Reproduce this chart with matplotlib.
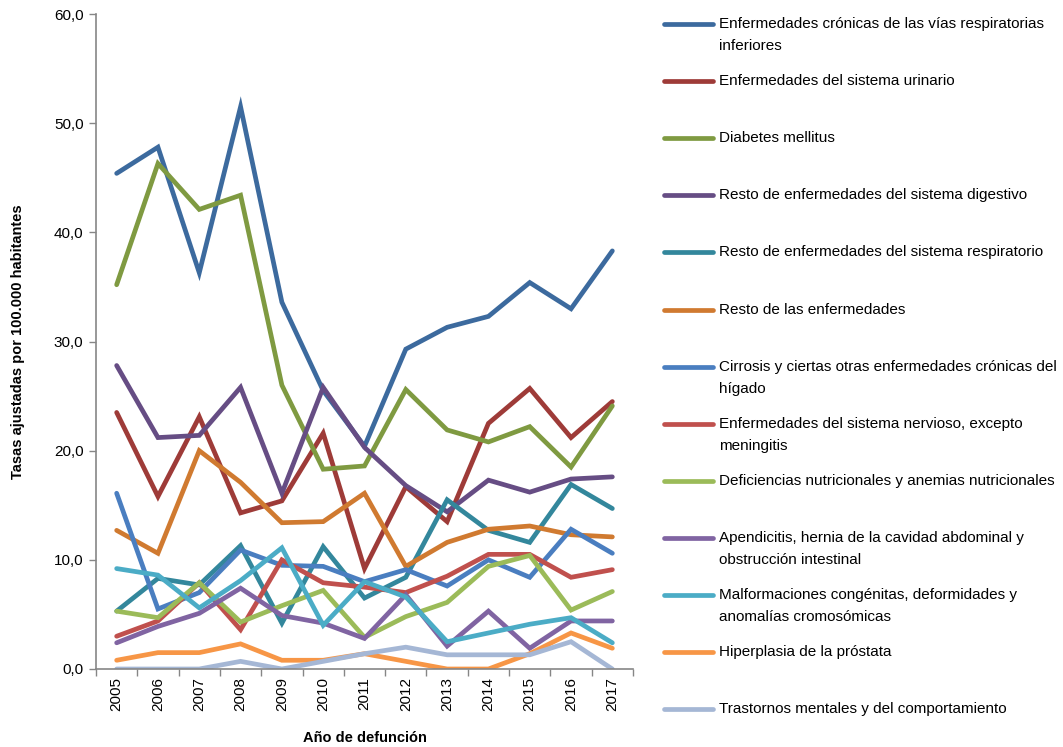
import matplotlib
matplotlib.use("Agg")
import matplotlib.pyplot as plt
from matplotlib.lines import Line2D
from matplotlib.ticker import FuncFormatter

plt.rcParams['font.family'] = ['Liberation Sans', 'DejaVu Sans']

years = ['2005', '2006', '2007', '2008', '2009', '2010', '2011',
         '2012', '2013', '2014', '2015', '2016', '2017']

# tasas ajustadas por 100.000 habitantes
cronicas_resp = [45.4, 47.8, 36.3, 51.5, 33.6, 25.5, 20.4, 29.3, 31.3, 32.3, 35.4, 33.0, 38.3]
urinario = [23.5, 15.8, 23.1, 14.3, 15.4, 21.6, 9.2, 16.7, 13.5, 22.5, 25.7, 21.2, 24.5]
diabetes = [35.2, 46.3, 42.1, 43.4, 26.0, 18.3, 18.6, 25.6, 21.9, 20.8, 22.2, 18.5, 24.1]
digestivo = [27.8, 21.2, 21.4, 25.8, 16.1, 25.8, 20.3, 16.8, 14.4, 17.3, 16.2, 17.4, 17.6]
resto_resp = [5.3, 8.3, 7.7, 11.3, 4.2, 11.2, 6.5, 8.4, 15.5, 12.7, 11.6, 16.9, 14.7]
resto_enf = [12.7, 10.6, 20.0, 17.1, 13.4, 13.5, 16.1, 9.4, 11.6, 12.8, 13.1, 12.3, 12.1]
cirrosis = [16.1, 5.5, 7.0, 10.9, 9.5, 9.4, 8.0, 9.1, 7.6, 10.0, 8.4, 12.8, 10.6]
nervioso = [3.0, 4.4, 7.9, 3.6, 10.0, 7.9, 7.5, 7.0, 8.5, 10.5, 10.5, 8.4, 9.1]
deficiencias = [5.3, 4.7, 7.9, 4.3, 5.8, 7.2, 2.9, 4.8, 6.1, 9.4, 10.4, 5.4, 7.1]
apendicitis = [2.4, 3.9, 5.1, 7.4, 4.9, 4.2, 2.8, 6.8, 2.1, 5.3, 1.9, 4.4, 4.4]
malformaciones = [9.2, 8.6, 5.6, 8.1, 11.1, 4.0, 8.0, 6.6, 2.5, 3.3, 4.1, 4.7, 2.4]
prostata = [0.8, 1.5, 1.5, 2.3, 0.8, 0.8, 1.4, 0.7, 0.0, 0.0, 1.4, 3.3, 1.9]
mentales = [0.0, 0.0, 0.0, 0.7, 0.0, 0.7, 1.4, 2.0, 1.3, 1.3, 1.3, 2.5, 0.0]

labels = [
    'Enfermedades crónicas de las vías respiratorias\ninferiores',
    'Enfermedades del sistema urinario',
    'Diabetes mellitus',
    'Resto de enfermedades del sistema digestivo',
    'Resto de enfermedades del sistema respiratorio',
    'Resto de las enfermedades',
    'Cirrosis y ciertas otras enfermedades crónicas del\nhígado',
    'Enfermedades del sistema nervioso, excepto\nmeningitis',
    'Deficiencias nutricionales y anemias nutricionales',
    'Apendicitis, hernia de la cavidad abdominal y\nobstrucción intestinal',
    'Malformaciones congénitas, deformidades y\nanomalías cromosómicas',
    'Hiperplasia de la próstata',
    'Trastornos mentales y del comportamiento',
]
series = [cronicas_resp, urinario, diabetes, digestivo, resto_resp, resto_enf,
          cirrosis, nervioso, deficiencias, apendicitis, malformaciones,
          prostata, mentales]
colors = ['#3C6A9E', '#9E3B38', '#7F9A41', '#664D84', '#33879C', '#D07A30',
          '#4A7EC0', '#C0504D', '#9BBB59', '#8064A2', '#4BACC6', '#F79646',
          '#A5B7D5']

W, H = 1063, 747
fig = plt.figure(figsize=(W / 100, H / 100), dpi=100)
ax = fig.add_axes([96 / W, 1 - 669 / H, (633 - 96) / W, (669 - 14) / H])

x = list(range(len(years)))
for vals, col in zip(series, colors):
    ax.plot(x, vals, color=col, linewidth=3.4, solid_capstyle='round',
            solid_joinstyle='miter')

ax.set_xlim(-0.5, len(years) - 0.5)
ax.set_ylim(0, 60)
ax.set_yticks(range(0, 61, 10))
ax.yaxis.set_major_formatter(FuncFormatter(lambda v, p: f'{v:.1f}'.replace('.', ',')))
ax.set_xticks(x)
ax.set_xticklabels(years, rotation=90)
ax.set_xticks([i - 0.5 for i in range(len(years) + 1)], minor=True)
ax.tick_params(axis='x', which='major', length=0, pad=6, labelsize=11)
ax.tick_params(axis='x', which='minor', length=5, color='#868686', width=1)
ax.tick_params(axis='y', length=5, color='#868686', width=1, labelsize=11, pad=4)

for s in ['top', 'right']:
    ax.spines[s].set_visible(False)
for s in ['left', 'bottom']:
    ax.spines[s].set_color('#868686')
    ax.spines[s].set_linewidth(1.2)

ax.set_ylabel('Tasas ajustadas por 100.000 habitantes', fontweight='bold',
              fontsize=10.5)
ax.yaxis.set_label_coords(-0.132, 0.5)
ax.set_xlabel('Año de defunción', fontweight='bold', fontsize=10.5)
ax.xaxis.set_label_coords(0.5, -0.094)

# leyenda a la derecha
top = 24
step = 57.1
for i, (lab, col) in enumerate(zip(labels, colors)):
    yc = top + i * step
    fig.add_artist(Line2D([664 / W, 713 / W], [1 - yc / H, 1 - yc / H],
                          color=col, linewidth=3.4, solid_capstyle='round',
                          transform=fig.transFigure))
    for j, part in enumerate(lab.split('\n')):
        fig.text(719 / W, 1 - (yc + j * 22) / H, part, fontsize=11,
                 va='center', ha='left')

fig.savefig('out.png', dpi=100)
